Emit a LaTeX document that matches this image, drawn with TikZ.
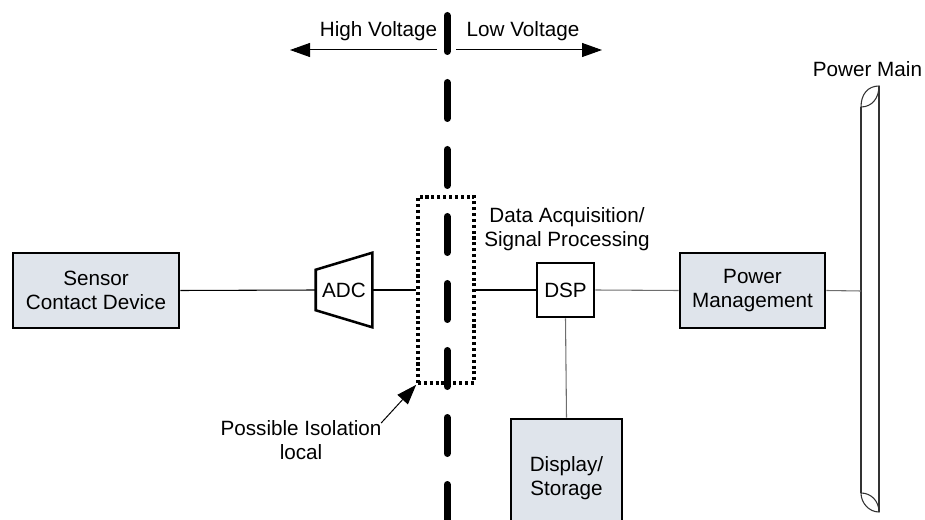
\documentclass[tikz,border=0pt]{standalone}
\usepackage{fontspec}
\setmainfont{Liberation Sans}
\usetikzlibrary{calc}
\usetikzlibrary{arrows.meta}
\usetikzlibrary{positioning}
\definecolor{boxfill}{RGB}{223,228,235}
\definecolor{wiregray}{RGB}{110,110,110}

\begin{document}
\begin{tikzpicture}[x=0.75pt,y=-0.75pt,font=\fontsize{15.5}{17.5}\selectfont]
			\tikzset{block/.style={shape=rectangle, draw=black, line width=1.9pt, fill=boxfill, align=center, inner sep=0pt}}
			\tikzset{plain/.style={shape=rectangle, draw=black, line width=1.9pt, align=center, inner sep=0pt}}
			\tikzset{isobox/.style={shape=rectangle, draw=black, line width=2.8pt, dash pattern=on 2.3pt off 2.1pt}}
			\tikzset{wire/.style={line width=0.8pt}}
			\tikzset{flow/.style={-{Triangle[length=15pt,width=10.5pt]}, line width=0.75pt}}
			\useasboundingbox (0,0) rectangle (925,520);
			\node[block, minimum width=124.5pt, minimum height=56.25pt] (sensor) at (96,290.5) {Sensor\\Contact Device};
			\node[minimum width=42pt, minimum height=55.5pt, inner sep=0pt] (adc) at (344,290) {ADC};
			\draw[line width=1.9pt] (adc.north east) -- (adc.south east) -- ($(adc.south west)+(0,-17)$) -- ($(adc.north west)+(0,17)$) -- cycle;
			\node[isobox, minimum width=42pt, minimum height=139.5pt] (iso) at (446,290) {};
			\node[plain, minimum width=42.75pt, minimum height=40.5pt] (dsp) at (565.5,290) {DSP};
			\node[block, minimum width=108.75pt, minimum height=56.25pt] (power) at (752.5,290.5) {Power\\Management};
			\node[block, minimum width=83.25pt, minimum height=88.5pt] (display) at (566.5,478) {Display/\\Storage};
			\node[align=center] (daq) at (567,229) {Data Acquisition/\\Signal Processing};
			\node[align=center] (isolab) at (301,440) {Possible Isolation\\local};
			\node[anchor=base] (hv) at (378.5,37) {High Voltage};
			\node[anchor=base] (lv) at (523,37) {Low Voltage};
			\node[anchor=base] (mainlab) at (867.5,77) {Power Main};
			% power main pipe
			\coordinate (tap) at (861,291);
			\draw[black!80, line width=0.8pt] (861,107) -- (861,493);
			\draw[black!80, line width=0.8pt] (879,86) -- (879,512);
			\draw[black!80, line width=0.8pt] (861,107) .. controls (861,94) and (868,86) .. (879,86) .. controls (879,98) and (872,107) .. (861,107);
			\draw[black!80, line width=0.8pt] (861,493) .. controls (871,493) and (879,501) .. (879,512) .. controls (869,512) and (861,503) .. (861,493);
			\draw[wire] (sensor.east) -- (adc.west);
			\draw[wire] (adc.east) -- (iso.west);
			\draw[wire] (iso.east) -- (dsp.west);
			\draw[wire, wiregray] (dsp.east) -- (power.west);
			\draw[wire, wiregray] (dsp.south) -- (display.north);
			\draw[wire, wiregray] (power.east) -- (tap);
			% isolation barrier
			\coordinate (divtop) at (447,15.5);
			\coordinate (divbot) at (447,545);
			\draw[line width=5.25pt, line cap=round, dash pattern=on 27pt off 23.25pt] (divtop) -- (divbot);
			\coordinate (hvfrom) at (437,50);
			\coordinate (hvto) at (290,50);
			\coordinate (lvfrom) at (456,50);
			\coordinate (lvto) at (602,50);
			\draw[flow] (hvfrom) -- (hvto);
			\draw[flow] (lvfrom) -- (lvto);
			\draw[flow] ($(isolab.north east)+(-5,7)$) -- (iso.south west);
		\end{tikzpicture}
\end{document}
